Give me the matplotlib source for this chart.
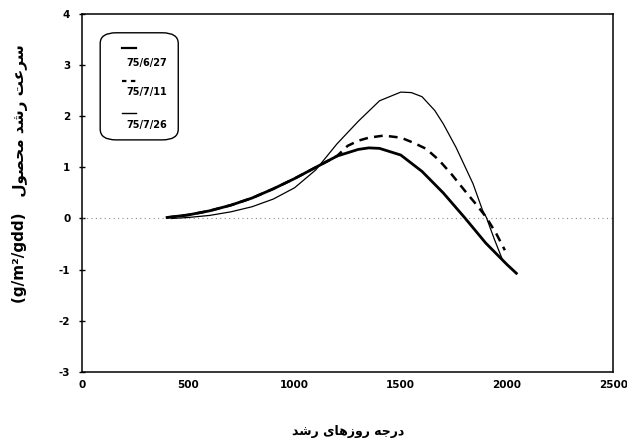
import matplotlib.pyplot as plt
from matplotlib.patches import FancyBboxPatch
from matplotlib.lines import Line2D

plt.rcParams["axes.unicode_minus"] = False

# growth degree days and crop growth rate for three sowing dates
gdd_a = [400, 500, 600, 700, 800, 900, 1000, 1100, 1200, 1300, 1350, 1400,
         1500, 1600, 1700, 1800, 1900, 2000, 2044]
cgr_a = [0.02, 0.07, 0.15, 0.26, 0.40, 0.58, 0.78, 1.00, 1.22, 1.35, 1.38, 1.37,
         1.24, 0.92, 0.50, 0.02, -0.48, -0.90, -1.07]

gdd_b = [400, 500, 600, 700, 800, 900, 1000, 1100, 1200, 1250, 1300, 1350, 1420,
         1500, 1560, 1620, 1680, 1740, 1800, 1860, 1903, 1950, 1990]
cgr_b = [0.02, 0.07, 0.15, 0.26, 0.40, 0.58, 0.78, 1.00, 1.22, 1.42, 1.52, 1.58, 1.62,
         1.58, 1.48, 1.36, 1.14, 0.86, 0.55, 0.25, 0.02, -0.30, -0.62]

gdd_c = [420, 500, 600, 700, 800, 900, 1000, 1100, 1200, 1300, 1400, 1500, 1550,
         1600, 1660, 1700, 1760, 1840, 1885, 1903, 1940, 1980]
cgr_c = [0.0, 0.02, 0.06, 0.13, 0.23, 0.38, 0.60, 0.95, 1.46, 1.90, 2.30, 2.47, 2.46,
         2.38, 2.11, 1.85, 1.39, 0.68, 0.16, 0.02, -0.40, -0.82]

dates = ["75/6/27", "75/7/11", "75/7/26"]
xticks = [0, 500, 1000, 1500, 2000, 2500]
yticks = [-3, -2, -1, 0, 1, 2, 3, 4]

# Persian labels written in visual order with presentation forms
# (matplotlib does no Arabic shaping or bidi)
xlab = ("\uFEAA\uFEB7\uFEAD" + " " +
        "\uFEEF\uFE8E\uFEEB\uFEAF\uFEED\uFEAD" + " " +
        "\uFEEA\uFE9F\uFEAD\uFEA9")
ylab_fa = ("\uFEDD\uFEEE\uFEBC\uFEA4\uFEE3" + " " +
           "\uFEAA\uFEB7\uFEAD" + " " +
           "\uFE96\uFECB\uFEAE\uFEB3")

fig = plt.figure(figsize=(6.27, 4.45), dpi=100)
ax = fig.add_axes([0.131, 0.164, 0.847, 0.805])

ax.plot([0, 2500], [0, 0], color="0.55", lw=0.8, ls=(0, (1, 3)))
ax.plot(gdd_c, cgr_c, color="black", lw=0.9)
ax.plot(gdd_b, cgr_b, color="black", lw=1.8, ls=(0, (3.5, 2.5)))
ax.plot(gdd_a, cgr_a, color="black", lw=2.0)

ax.set_xlim(0, 2500)
ax.set_ylim(-3, 4)
ax.set_xticks(xticks)
ax.set_yticks(yticks)
ax.tick_params(axis="x", length=0, pad=6, labelsize=7.5)
ax.tick_params(axis="y", direction="inout", length=5, width=1, pad=6, labelsize=7.5)
for lbl in ax.get_xticklabels() + ax.get_yticklabels():
    lbl.set_fontweight("bold")
for sp in ax.spines.values():
    sp.set_linewidth(1.1)

fig.text(0.555, 0.03, xlab, ha="center", va="center", fontsize=9,
         family="DejaVu Sans", fontweight="bold")
fig.text(0.032, 0.61, "(g/m\u00b2/gdd)   " + ylab_fa, ha="center", va="center",
         rotation=90, fontsize=11, family="DejaVu Sans", fontweight="bold")

# legend box with the line sample above each date
box = FancyBboxPatch((0.034, 0.648), 0.147, 0.299, transform=ax.transAxes,
                     boxstyle="round,pad=0,rounding_size=0.03",
                     fc="white", ec="black", lw=1.0)
ax.add_patch(box)
styles = [dict(lw=1.6), dict(lw=1.6, ls=(0, (2, 2))), dict(lw=1.0)]
line_y = [0.905, 0.813, 0.723]
text_y = [0.863, 0.782, 0.690]
for d, st, ly, ty in zip(dates, styles, line_y, text_y):
    ax.add_line(Line2D([0.075, 0.102], [ly, ly], transform=ax.transAxes,
                       color="black", **st))
    ax.text(0.122, ty, d, transform=ax.transAxes, ha="center", va="center",
            fontsize=7, fontweight="bold")

fig.savefig("out.png", dpi=100)
